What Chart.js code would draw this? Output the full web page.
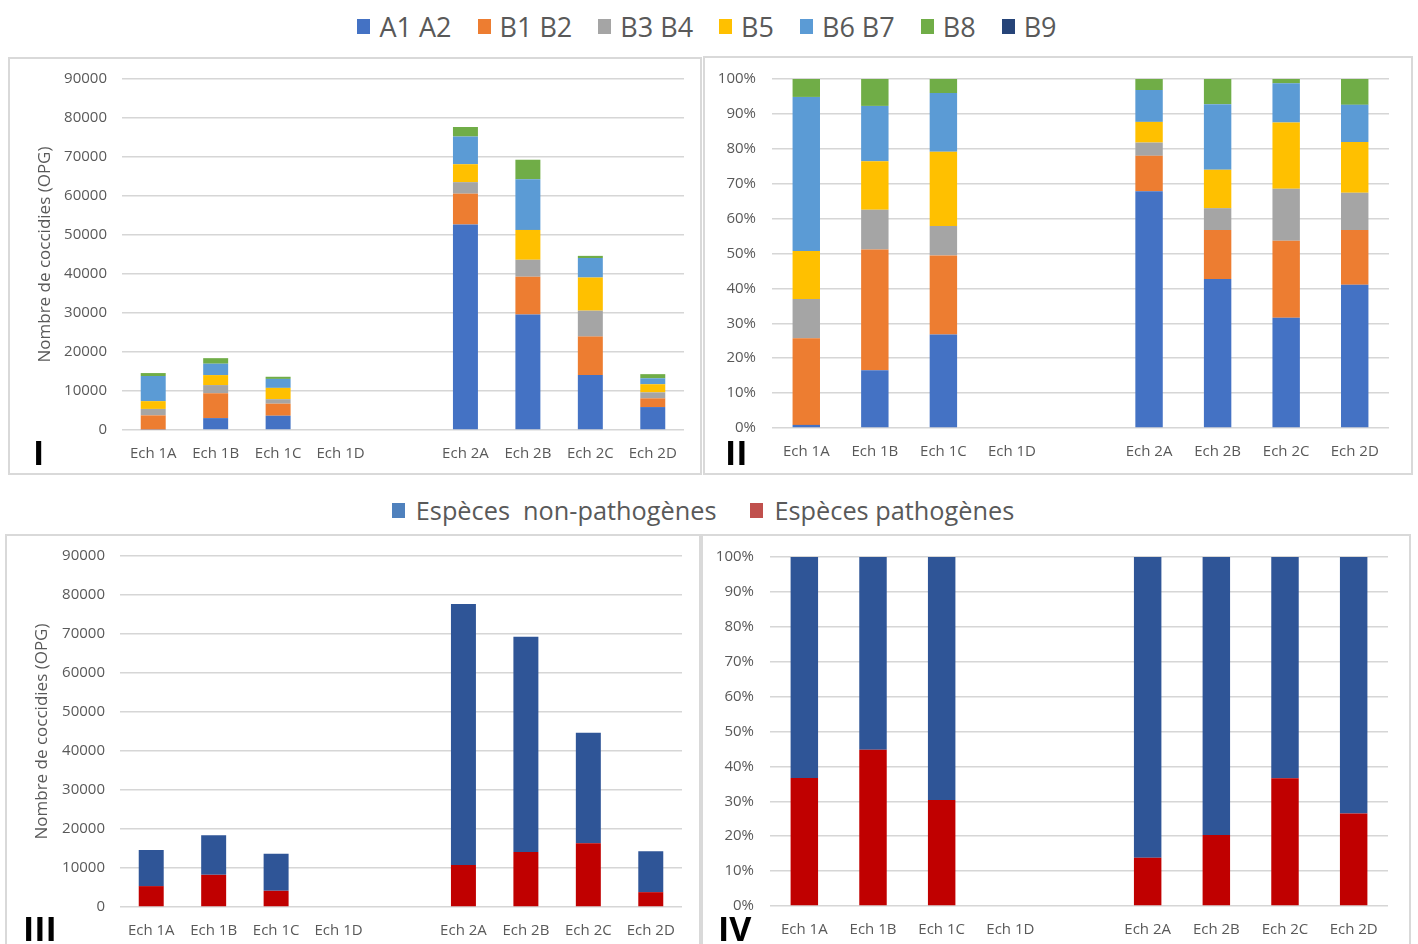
<!DOCTYPE html>
<html>
<head>
<meta charset="utf-8">
<script src="https://cdn.jsdelivr.net/npm/chart.js@4.4.1/dist/chart.umd.min.js"></script>
<style>
  html, body { margin: 0; padding: 0; background: #fff; }
  body { width: 1418px; height: 944px; overflow: hidden; position: relative; font-family: "Open Sans", sans-serif; }
  .panel { position: absolute; border: 2px solid #d9d9d9; box-sizing: border-box; background: #fff; }
  .panel canvas { position: absolute; left: 0; top: 0; }
  .num { position: absolute; font: 700 34px "Open Sans", sans-serif; line-height: 1; color: #000; }
  .legend { position: absolute; width: 1418px; display: flex; justify-content: center; align-items: center; color: #595959; white-space: pre; }
  .legend .item { display: flex; align-items: center; }
  .legend i { display: inline-block; width: 13px; height: 15px; }
</style>
</head>
<body>

<div class="legend" id="legendTop" style="left:-2px;top:7px;height:38px;font-size:27px;"></div>
<div class="legend" id="legendMid" style="left:-6px;top:491px;height:38px;font-size:25.3px;"></div>

<div class="panel" style="left:8px;top:57px;width:694px;height:418px;"><canvas id="c1" width="690" height="414"></canvas></div>
<div class="panel" style="left:703px;top:56px;width:710px;height:419px;"><canvas id="c2" width="706" height="415"></canvas></div>
<div class="panel" style="left:5px;top:534px;width:696px;height:420px;"><canvas id="c3" width="692" height="416"></canvas></div>
<div class="panel" style="left:701px;top:534px;width:710px;height:420px;"><canvas id="c4" width="706" height="416"></canvas></div>

<div class="num" style="left:33px;top:435px;">I</div>
<div class="num" style="left:725px;top:435px;">II</div>
<div class="num" style="left:23px;top:911px;">III</div>
<div class="num" style="left:718px;top:911px;">IV</div>

<script>
// Sampling points (blank slot separates the two series of samples)
const categories = ["Ech 1A", "Ech 1B", "Ech 1C", "Ech 1D", "", "Ech 2A", "Ech 2B", "Ech 2C", "Ech 2D"];

// Oocyst counts per species group (OPG)
const a1a2 = [130, 3050, 3660, 0, null, 52700, 29600, 14100, 5880];
const b1b2 = [3620, 6370, 3090, 0, null, 7900, 9700, 9850, 2240];
const b3b4 = [1650, 2100, 1150, 0, null, 2950, 4350, 6650, 1530];
const b5   = [2000, 2560, 2900, 0, null, 4600, 7650, 8500, 2090];
const b6b7 = [6450, 2920, 2300, 0, null, 7100, 13000, 5000, 1520];
const b8   = [750, 1420, 550, 0, null, 2450, 5000, 550, 1060];
const b9   = [0, 0, 0, 0, null, 0, 0, 0, 0];

// Counts split by pathogenicity (OPG)
const nonPathogenes = [9250, 10170, 9500, 0, null, 66950, 55200, 28300, 10520];
const pathogenes    = [5350, 8250, 4150, 0, null, 10750, 14100, 16350, 3800];

const countTicks = [0, 10000, 20000, 30000, 40000, 50000, 60000, 70000, 80000, 90000];
const percentTicks = [0, 10, 20, 30, 40, 50, 60, 70, 80, 90, 100];

const speciesSeries = [
  { label: "A1 A2", data: a1a2, color: "#4472C4" },
  { label: "B1 B2", data: b1b2, color: "#ED7D31" },
  { label: "B3 B4", data: b3b4, color: "#A5A5A5" },
  { label: "B5",    data: b5,   color: "#FFC000" },
  { label: "B6 B7", data: b6b7, color: "#5B9BD5" },
  { label: "B8",    data: b8,   color: "#70AD47" },
  { label: "B9",    data: b9,   color: "#264478" }
];
const pathoSeries = [
  { label: "Espèces pathogènes",      data: pathogenes,    color: "#C00000", key: "#C0504D" },
  { label: "Espèces  non-pathogènes", data: nonPathogenes, color: "#2F5597", key: "#4F81BD" }
];

// Column totals and share of each series in percent
function totalsOf(seriesList) {
  return categories.map((_, i) => {
    let s = 0, any = false;
    seriesList.forEach(d => { if (d.data[i] != null) { s += d.data[i]; any = true; } });
    return any ? s : null;
  });
}
function toPercent(values, totals) {
  return values.map((v, i) => (v == null || !totals[i]) ? null : v / totals[i] * 100);
}

// HTML legends
function buildLegend(id, items, gap, swatchGap) {
  const el = document.getElementById(id);
  items.forEach((it, k) => {
    const span = document.createElement("span");
    span.className = "item";
    if (k > 0) span.style.marginLeft = gap + "px";
    const sw = document.createElement("i");
    sw.style.background = it.key || it.color;
    sw.style.marginRight = swatchGap + "px";
    span.appendChild(sw);
    span.appendChild(document.createTextNode(it.label));
    el.appendChild(span);
  });
}
buildLegend("legendTop", speciesSeries, 26, 9);
buildLegend("legendMid", [pathoSeries[1], pathoSeries[0]], 34, 11);

const tickColor = "#595959";
const gridColor = "#d6d6d6";

function makeChart(canvasId, datasets, g) {
  const yTicksList = g.percent ? percentTicks : countTicks;
  return new Chart(document.getElementById(canvasId), {
    type: "bar",
    data: {
      labels: categories,
      datasets: datasets.map(d => ({
        label: d.label,
        data: d.data,
        backgroundColor: d.color,
        borderWidth: 0,
        categoryPercentage: 1.0,
        barPercentage: 0.4
      }))
    },
    options: {
      responsive: false,
      animation: false,
      devicePixelRatio: 1,
      layout: { padding: { left: g.padLeft, top: g.padTop, right: g.padRight, bottom: 0 } },
      plugins: { legend: { display: false }, tooltip: { enabled: false } },
      scales: {
        x: {
          stacked: true,
          grid: { display: false },
          border: { display: false },
          ticks: { color: tickColor, font: { family: "Open Sans", size: 15 }, padding: g.xPad, maxRotation: 0, autoSkip: false },
          afterFit: s => { s.height = g.xHeight; }
        },
        y: {
          stacked: true,
          min: 0,
          max: g.percent ? 100 : 90000,
          afterBuildTicks: s => { s.ticks = yTicksList.map(v => ({ value: v })); },
          grid: { color: gridColor, lineWidth: 1.5, drawTicks: true, tickLength: g.yGap, tickColor: "rgba(0,0,0,0)" },
          border: { display: false },
          ticks: {
            color: tickColor,
            font: { family: "Open Sans", size: 15 },
            padding: 0,
            callback: v => g.percent ? v + "%" : String(v)
          },
          title: g.title ? {
            display: true,
            text: g.title,
            color: tickColor,
            font: { family: "Open Sans", size: 17 },
            padding: { top: g.titlePad, bottom: 0 }
          } : { display: false },
          afterFit: s => { s.width = g.yWidth; }
        }
      }
    }
  });
}

const speciesTotals = totalsOf(speciesSeries);
const pathoTotals = totalsOf(pathoSeries);

// I : counts per species group
makeChart("c1", speciesSeries, {
  padLeft: 20, padTop: 20, padRight: 16, yWidth: 92, xHeight: 43,
  xPad: 7, yGap: 15, title: "Nombre de coccidies (OPG)", titlePad: 5
});

// II : species share per sample
makeChart("c2", speciesSeries.map(d => ({ ...d, data: toPercent(d.data, speciesTotals) })), {
  percent: true, padLeft: 0, padTop: 21, padRight: 22, yWidth: 67, xHeight: 45,
  xPad: 7, yGap: 16
});

// III : pathogenic vs non-pathogenic counts
makeChart("c3", pathoSeries, {
  padLeft: 20, padTop: 20, padRight: 17, yWidth: 93, xHeight: 45,
  xPad: 7, yGap: 15, title: "Nombre de coccidies (OPG)", titlePad: 5
});

// IV : pathogenic vs non-pathogenic share
makeChart("c4", pathoSeries.map(d => ({ ...d, data: toPercent(d.data, pathoTotals) })), {
  percent: true, padLeft: 0, padTop: 21, padRight: 21, yWidth: 67, xHeight: 46,
  xPad: 7, yGap: 16
});
</script>
</body>
</html>
